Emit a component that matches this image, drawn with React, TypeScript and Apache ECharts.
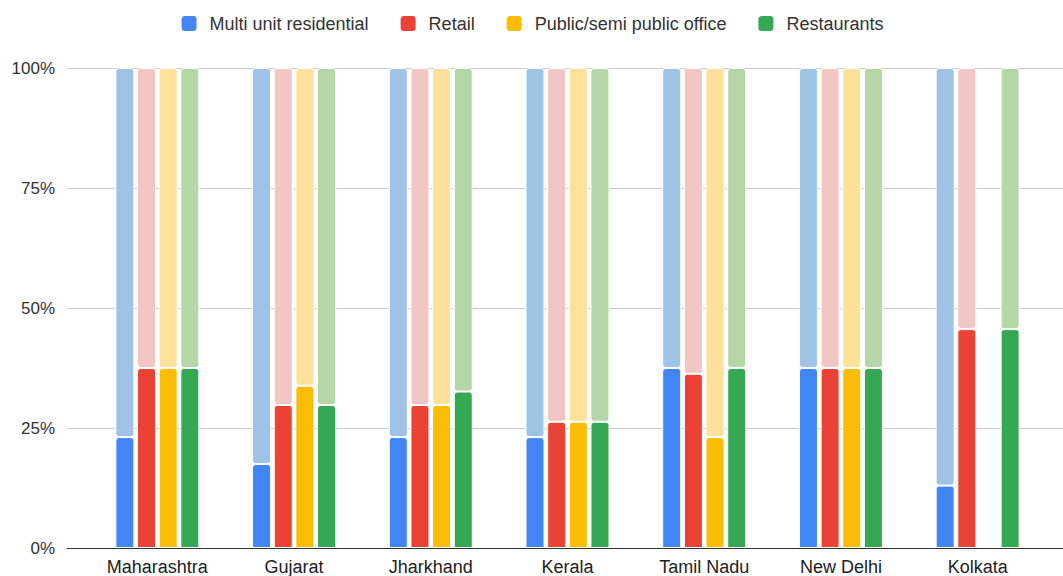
import React, { useEffect, useRef } from "react";
import * as echarts from "echarts";

const categories = ["Maharashtra", "Gujarat", "Jharkhand", "Kerala", "Tamil Nadu", "New Delhi", "Kolkata"];
const seriesNames = ["Multi unit residential", "Retail", "Public/semi public office", "Restaurants"];
const multiUnit = [23.1, 17.5, 23.1, 23.1, 37.5, 37.5, 13];
const retail = [37.5, 29.8, 29.8, 26.3, 36.3, 37.5, 45.6];
const publicOffice = [37.5, 33.8, 29.8, 26.3, 23.1, 37.5, null];
const restaurants = [37.5, 29.8, 32.6, 26.3, 37.5, 37.5, 45.6];
const yTicks = [0, 25, 50, 75, 100];

const darkColors = ["#4285f4", "#ea4335", "#fbbc04", "#34a853"];
const lightColors = ["#9fc3e6", "#f2c6c4", "#fde19a", "#b5d7a7"];
const FONT = "Liberation Sans";

export default function App() {
  const ref = useRef<HTMLDivElement>(null);
  useEffect(() => {
    if (!ref.current) return;
    const chart = echarts.init(ref.current, undefined, { renderer: "svg" });
    const values = [multiUnit, retail, publicOffice, restaurants];
    const series: any[] = [];
    values.forEach((vals, i) => {
      series.push({
        name: seriesNames[i],
        type: "bar",
        stack: "s" + i,
        xAxisIndex: 0,
        yAxisIndex: 0,
        barWidth: 19,
        barGap: "14%",
        data: vals,
        itemStyle: { color: darkColors[i], borderRadius: [3, 3, 0, 0], borderColor: "#fff", borderWidth: 1 },
      });
      series.push({
        name: seriesNames[i] + " rest",
        type: "bar",
        stack: "s" + i,
        xAxisIndex: 0,
        yAxisIndex: 0,
        barWidth: 19,
        barGap: "14%",
        data: vals.map((v) => (v == null ? null : 100 - v)),
        itemStyle: { color: lightColors[i], borderRadius: 3, borderColor: "#fff", borderWidth: 1 },
      });
    });
    chart.setOption({
      animation: false,
      textStyle: { fontFamily: FONT },
      legend: {
        data: seriesNames,
        top: 9,
        left: "center",
        icon: "roundRect",
        itemWidth: 17,
        itemHeight: 17,
        itemGap: 30,
        textStyle: { fontSize: 18, color: "#333", fontFamily: FONT, padding: [0, 0, 0, 7] },
      },
      grid: [
        { left: 89, right: 17, top: 68, bottom: 28 },
        { left: 67, right: 0, top: 68, bottom: 28 },
      ],
      xAxis: [
        {
          type: "category",
          gridIndex: 0,
          data: categories,
          axisLine: { show: false },
          axisTick: { show: false },
          axisLabel: { fontSize: 18, color: "#222", margin: 10, fontFamily: FONT },
        },
        {
          type: "value",
          gridIndex: 1,
          min: 0,
          max: 1,
          axisLine: { show: true, lineStyle: { color: "#333", width: 1 } },
          axisTick: { show: false },
          axisLabel: { show: false },
          splitLine: { show: false },
        },
      ],
      yAxis: [
        {
          type: "value",
          gridIndex: 0,
          min: yTicks[0],
          max: yTicks[yTicks.length - 1],
          interval: 25,
          axisLine: { show: false },
          axisTick: { show: false },
          splitLine: { show: false },
          axisLabel: { formatter: "{value}%", fontSize: 17, color: "#333", margin: 34, fontFamily: FONT },
        },
        {
          type: "value",
          gridIndex: 1,
          min: yTicks[0],
          max: yTicks[yTicks.length - 1],
          interval: 25,
          axisLine: { show: false },
          axisTick: { show: false },
          axisLabel: { show: false },
          splitLine: { show: true, lineStyle: { color: "#cccccc", width: 1 } },
        },
      ],
      series,
    });
    return () => chart.dispose();
  }, []);
  return <div ref={ref} style={{ position: "absolute", left: 0, top: 0, width: 1063, height: 576 }} />;
}
